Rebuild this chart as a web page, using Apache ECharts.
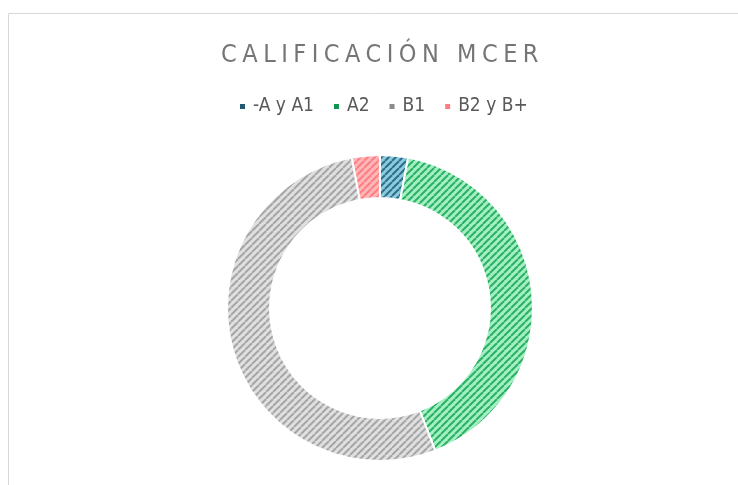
<!DOCTYPE html>
<html><head><meta charset="utf-8">
<script src="https://cdn.jsdelivr.net/npm/echarts@6/dist/echarts.min.js"></script>
<style>html,body{margin:0;padding:0;background:#fff}#c{width:738px;height:485px}</style>
</head><body><div id="c"></div>
<script>
const titleText = 'CALIFICACIÓN MCER';
const categories = ['-A y A1', 'A2', 'B1', 'B2 y B+'];
const values = [1, 14, 18, 1];

const legendColors = ['#1F5A73', '#10944F', '#8C8C8C', '#FF7C80'];
const lightColors = ['#8CCBE0', '#A3F0C4', '#E0E0E0', '#FFB8BA'];
const darkColors = ['#2E6E87', '#2DB063', '#A6A6A6', '#FF7C80'];

// letter spacing for the title text only (canvas letterSpacing)
const _fill = CanvasRenderingContext2D.prototype.fillText;
CanvasRenderingContext2D.prototype.fillText = function (t, x, y, w) {
  if (t === titleText && 'letterSpacing' in this) {
    const prev = this.letterSpacing;
    this.letterSpacing = '5.5px';
    const r = w === undefined ? _fill.call(this, t, x - 2.5, y) : _fill.call(this, t, x - 2.5, y, w);
    this.letterSpacing = prev;
    return r;
  }
  return w === undefined ? _fill.call(this, t, x, y) : _fill.call(this, t, x, y, w);
};

function stripe(light, dark) {
  const s = 7;
  const cv = document.createElement('canvas');
  cv.width = s; cv.height = s;
  const ctx = cv.getContext('2d');
  ctx.fillStyle = light; ctx.fillRect(0, 0, s, s);
  ctx.strokeStyle = dark; ctx.lineWidth = 2;
  for (const o of [-s, 0, s]) {
    ctx.beginPath(); ctx.moveTo(o, s); ctx.lineTo(o + s, 0); ctx.stroke();
  }
  return { image: cv, repeat: 'repeat' };
}

const FONT = '"DejaVu Sans Condensed", "Liberation Sans Narrow", "Liberation Sans", sans-serif';
const chart = echarts.init(document.getElementById('c'), null, { renderer: 'canvas' });
chart.setOption({
  animation: false,
  graphic: [{ type: 'rect', shape: { x: 8.5, y: 13.5, width: 760, height: 500 }, style: { fill: 'none', stroke: '#D9D9D9', lineWidth: 1 }, silent: true }],
  title: {
    text: titleText, left: 380, top: 38, textAlign: 'center',
    textStyle: { fontFamily: FONT, fontSize: 25, fontWeight: 'normal', color: '#757575' }
  },
  legend: {
    data: categories.map((c, i) => ({ name: c, itemStyle: { color: legendColors[i] } })),
    left: 233, top: 92, icon: 'rect', itemWidth: 7, itemHeight: 7, itemGap: 18,
    textStyle: { fontFamily: FONT, fontSize: 19, color: '#595959', padding: [0, 0, 0, 2] }
  },
  series: [{
    type: 'pie', center: [380, 308], radius: [110, 153], startAngle: 90, clockwise: true,
    label: { show: false }, labelLine: { show: false },
    itemStyle: { borderColor: '#fff', borderWidth: 2 },
    emphasis: { disabled: true },
    data: categories.map((c, i) => ({ name: c, value: values[i], itemStyle: { color: stripe(lightColors[i], darkColors[i]) } }))
  }]
});
</script></body></html>
